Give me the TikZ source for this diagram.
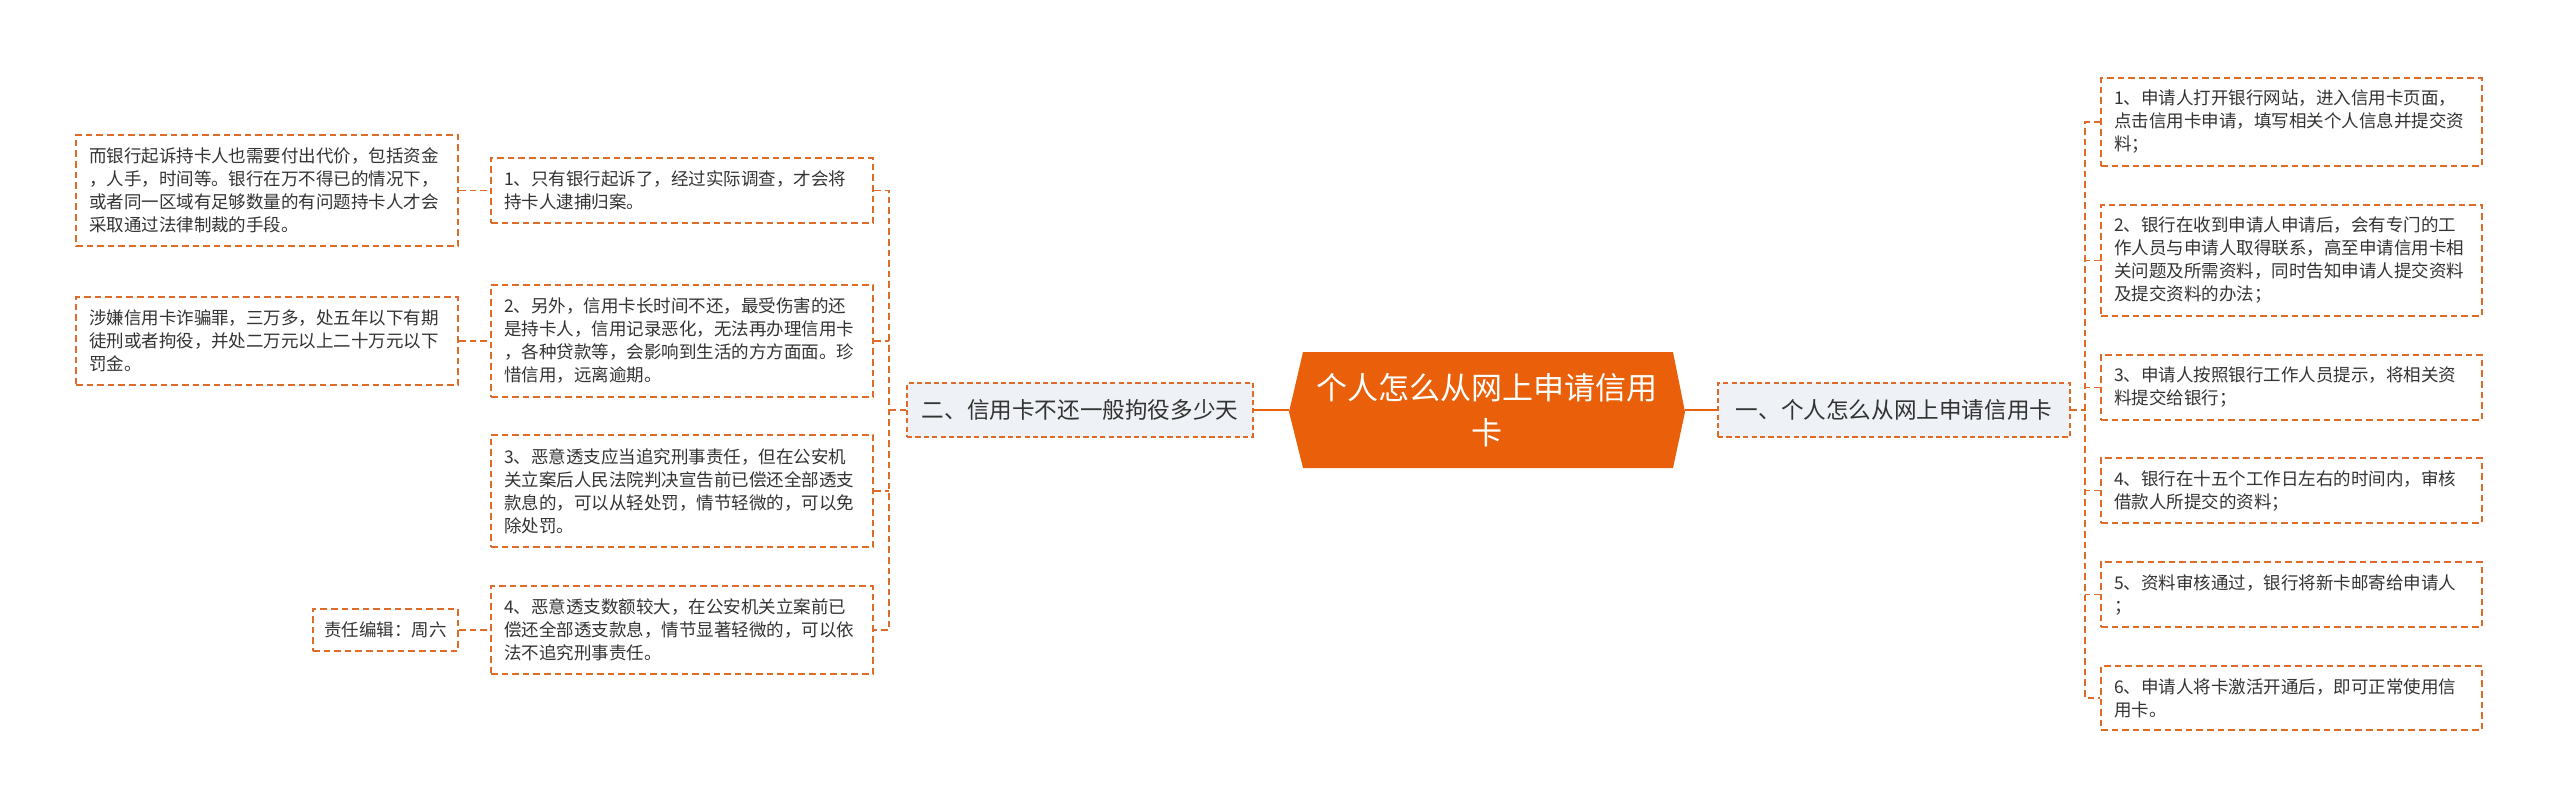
\documentclass[tikz,border=0pt]{standalone}
\usepackage{fontspec}
\setmainfont{Noto Sans CJK SC}
\definecolor{ln}{RGB}{222,108,40}
\definecolor{hubc}{RGB}{234,96,10}
\definecolor{subc}{RGB}{238,241,245}
\definecolor{tx}{RGB}{51,51,51}
\tikzset{
  leafbox/.style={draw=ln, line width=0.9pt, dash pattern=on 3.3pt off 2pt, fill=white, text=tx,
    font=\fontsize{8.75pt}{11.5pt}\selectfont, align=left, text width=178pt,
    inner xsep=6.5pt, inner ysep=0pt, anchor=center},
  rleafbox/.style={leafbox, text width=177.5pt},
  edbox/.style={draw=ln, line width=0.9pt, dash pattern=on 3.3pt off 2pt, fill=white, text=tx,
    font=\fontsize{8.75pt}{11.5pt}\selectfont, inner xsep=5pt, inner ysep=0pt,
    minimum width=72.5pt, minimum height=21pt},
  subbox/.style={draw=ln, line width=0.7pt, dash pattern=on 2.6pt off 1.6pt, fill=subc, text=tx,
    font=\fontsize{11.3pt}{14pt}\selectfont, inner sep=0pt, minimum height=27pt, align=center},
  hubtext/.style={text=white, font=\fontsize{15.5pt}{22.5pt}\selectfont, align=center, inner sep=0pt},
  link/.style={draw=ln, line width=0.9pt, dash pattern=on 3.3pt off 2pt},
  hubline/.style={draw=hubc, line width=1.1pt}
}
\begin{document}
\begin{tikzpicture}[x=0.5pt, y=-0.5pt]
\useasboundingbox (0,0) rectangle (2560,809);
% left leaves
\node[leafbox, minimum height=55.5pt] (a) at (267,190.5) {而银行起诉持卡人也需要付出代价，包括资金\\，人手，时间等。银行在万不得已的情况下，\\或者同一区域有足够数量的有问题持卡人才会\\采取通过法律制裁的手段。};
\node[leafbox, minimum height=32.5pt] (l1) at (682,190.5) {1、只有银行起诉了，经过实际调查，才会将\\持卡人逮捕归案。};
\node[leafbox, minimum height=44pt] (b) at (267,341) {涉嫌信用卡诈骗罪，三万多，处五年以下有期\\徒刑或者拘役，并处二万元以上二十万元以下\\罚金。};
\node[leafbox, minimum height=56pt] (l2) at (682,341) {2、另外，信用卡长时间不还，最受伤害的还\\是持卡人，信用记录恶化，无法再办理信用卡\\，各种贷款等，会影响到生活的方方面面。珍\\惜信用，远离逾期。};
\node[leafbox, minimum height=56pt] (l3) at (682,491) {3、恶意透支应当追究刑事责任，但在公安机\\关立案后人民法院判决宣告前已偿还全部透支\\款息的，可以从轻处罚，情节轻微的，可以免\\除处罚。};
\node[leafbox, minimum height=44pt] (l4) at (682,630) {4、恶意透支数额较大，在公安机关立案前已\\偿还全部透支款息，情节显著轻微的，可以依\\法不追究刑事责任。};
\node[edbox] (ed) at (385.5,630) {责任编辑：周六};
% second level
\node[subbox, minimum width=173pt] (s2) at (1080,410) {二、信用卡不还一般拘役多少天};
\node[subbox, minimum width=176pt] (s1) at (1894,410) {一、个人怎么从网上申请信用卡};
% hub
\fill[hubc] (1289,412) -- (1303,352) -- (1673,352) -- (1685,412) -- (1673,468) -- (1303,468) -- cycle;
\node[hubtext] (hub) at (1487,410.5) {个人怎么从网上申请信用\\卡};
\coordinate (hl) at (1289,410);
\coordinate (hr) at (1685,410);
% right leaves
\node[rleafbox, minimum height=44pt] (r1) at (2291.5,122) {1、申请人打开银行网站，进入信用卡页面，\\点击信用卡申请，填写相关个人信息并提交资\\料；};
\node[rleafbox, minimum height=55.5pt] (r2) at (2291.5,260.5) {2、银行在收到申请人申请后，会有专门的工\\作人员与申请人取得联系，高至申请信用卡相\\关问题及所需资料，同时告知申请人提交资料\\及提交资料的办法；};
\node[rleafbox, minimum height=32.5pt] (r3) at (2291.5,387.5) {3、申请人按照银行工作人员提示，将相关资\\料提交给银行；};
\node[rleafbox, minimum height=32.5pt] (r4) at (2291.5,490.5) {4、银行在十五个工作日左右的时间内，审核\\借款人所提交的资料；};
\node[rleafbox, minimum height=32.5pt] (r5) at (2291.5,594.5) {5、资料审核通过，银行将新卡邮寄给申请人\\；};
\node[rleafbox, minimum height=32pt] (r6) at (2291.5,698) {6、申请人将卡激活开通后，即可正常使用信\\用卡。};
% connectors
\draw[hubline] (hl) -- (s2.east);
\draw[hubline] (hr) -- (s1.west);
\coordinate (lt) at (889,410);
\draw[link] (s2.west) -- (lt);
\draw[link] (l1.east) -| (lt) |- (l4.east);
\draw[link] (l2.east) -- (l2.east -| lt);
\draw[link] (l3.east) -- (l3.east -| lt);
\draw[link] (a.east) -- (l1.west);
\draw[link] (b.east) -- (l2.west);
\draw[link] (ed.east) -- (l4.west);
\coordinate (rt) at (2085,410);
\draw[link] (s1.east) -- (rt);
\draw[link] (r1.west) -| (rt) |- (r6.west);
\draw[link] (r2.west) -- (r2.west -| rt);
\draw[link] (r3.west) -- (r3.west -| rt);
\draw[link] (r4.west) -- (r4.west -| rt);
\draw[link] (r5.west) -- (r5.west -| rt);
\end{tikzpicture}
\end{document}
